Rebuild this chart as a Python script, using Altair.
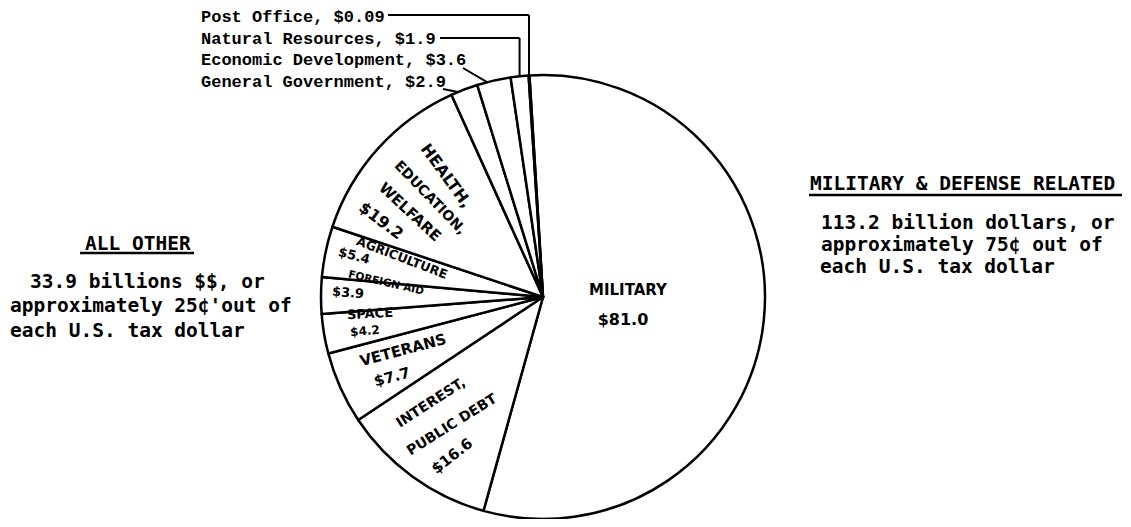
import math
import altair as alt
import pandas as pd

# ---------------- data ----------------
categories = ["Military", "Interest, Public Debt", "Veterans", "Space", "Foreign Aid",
              "Agriculture", "Health, Education, Welfare", "General Government",
              "Economic Development", "Natural Resources", "Post Office"]
values = [81.0, 16.6, 7.7, 4.2, 3.9, 5.4, 19.2, 2.9, 3.6, 1.9, 0.09]

top_labels = ["Post Office, $0.09", "Natural Resources, $1.9",
              "Economic Development, $3.6", "General Government, $2.9"]
top_label_cats = ["Post Office", "Natural Resources", "Economic Development", "General Government"]

left_lines = ["ALL OTHER", "33.9 billions $$, or", "approximately 25\u00a2'out of", "each U.S. tax dollar"]
right_lines = ["MILITARY & DEFENSE RELATED", "113.2 billion dollars, or",
               "approximately 75\u00a2 out of", "each U.S. tax dollar"]

slice_texts = ["HEALTH,", "EDUCATION,", "WELFARE", "$19.2",
               "AGRICULTURE", "$5.4", "FOREIGN AID", "$3.9",
               "SPACE", "$4.2", "VETERANS", "$7.7",
               "INTEREST,", "PUBLIC DEBT", "$16.6", "MILITARY", "$81.0"]

# ---------------- layout ----------------
OFF = 8
W, H = 1115, 511
CX, CY, R = 543 - OFF, 297 - OFF, 222
START_DEG = -3.5

total = sum(values)
a0 = math.radians(360 + START_DEG)

pie_df = pd.DataFrame({"category": categories, "value": values, "order": list(range(len(values)))})

pie = alt.Chart(pie_df).mark_arc(fill="white", stroke="black", strokeWidth=2.5,
                                 radius=R, strokeJoin="round").encode(
    theta=alt.Theta("value:Q", stack=True, scale=alt.Scale(range=[a0, a0 + 2 * math.pi])),
    order=alt.Order("order:Q"),
    x=alt.value(CX), y=alt.value(CY),
)

# slice angle helper (degrees, clockwise from 12 o'clock)
starts = []
acc = 0.0
for v in values:
    starts.append(START_DEG + 360 * acc / total)
    acc += v
ends = [s + 360 * v / total for s, v in zip(starts, values)]


def circ_pt(cat, frac):
    i = categories.index(cat)
    ang = math.radians(starts[i] + frac * (ends[i] - starts[i]))
    return CX + R * math.sin(ang), CY - R * math.cos(ang)


# leader lines (label anchor in page coords)
leader_style = {
    "Post Office": ("h", 388, 15, 0.5),
    "Natural Resources": ("h", 440, 38, 0.5),
    "Economic Development": ("d", 463, 68, 0.3),
    "General Government": ("d", 443, 89, 0.25),
}
segs = []
for cat in top_label_cats:
    kind, lx, ly, frac = leader_style[cat]
    px, py = circ_pt(cat, frac)
    lx, ly = lx - OFF, ly - OFF
    if kind == "h":
        segs.append({"x": lx, "y": ly, "x2": px, "y2": ly})
        segs.append({"x": px, "y": ly, "x2": px, "y2": py})
    else:
        segs.append({"x": lx, "y": ly, "x2": px, "y2": py})
seg_df = pd.DataFrame(segs)

leaders = alt.Chart(seg_df).mark_rule(stroke="black", strokeWidth=2).encode(
    x=alt.X("x:Q", scale=None), y=alt.Y("y:Q", scale=None),
    x2="x2:Q", y2="y2:Q",
)

# top labels
top_df = pd.DataFrame({
    "text": top_labels,
    "x": [201 - OFF] * 4,
    "y": [22 - OFF, 44 - OFF, 65 - OFF, 87 - OFF],
})
top_text = alt.Chart(top_df).mark_text(
    font="Liberation Mono", fontWeight="bold", fontSize=17, align="left",
    baseline="alphabetic", color="black"
).encode(x=alt.X("x:Q", scale=None), y=alt.Y("y:Q", scale=None), text="text:N")

# side blocks
side_df = pd.DataFrame({
    "text": left_lines + right_lines,
    "x": [85, 30, 10, 10, 810, 821, 821, 820],
    "y": [250, 288, 312, 337, 190, 229, 251, 273],
})
side_df["x"] -= OFF
side_df["y"] -= OFF
side_text = alt.Chart(side_df).mark_text(
    font="DejaVu Sans Mono", fontWeight="bold", fontSize=19.5, align="left",
    baseline="alphabetic", color="black"
).encode(x=alt.X("x:Q", scale=None), y=alt.Y("y:Q", scale=None), text="text:N")

under_df = pd.DataFrame({"x": [80 - OFF, 809 - OFF], "x2": [194 - OFF, 1122 - OFF],
                         "y": [253 - OFF, 195 - OFF]})
underlines = alt.Chart(under_df).mark_rule(stroke="black", strokeWidth=2.5).encode(
    x=alt.X("x:Q", scale=None), x2="x2:Q", y=alt.Y("y:Q", scale=None)
)

# hand-lettered slice labels: centre position (page coords), rotation, size
slice_pos = [
    (446, 176, 54, 16), (430, 198, 46, 14), (410, 212, 43, 15), (381, 221, 37, 16),
    (402, 258, 21, 12.5), (354, 256, 15, 13), (386, 283, 13, 10.5), (348, 293, 5, 13),
    (370, 314, 357, 13), (365, 331, 355, 12), (403, 350, 345, 15), (392, 377, 345, 15),
    (431, 403, 327, 14), (452, 425, 328, 14), (452, 456, 322, 15), (628, 290, 0, 15),
    (623, 320, 0, 16),
]
sl_df = pd.DataFrame({
    "text": slice_texts,
    "x": [p[0] - OFF for p in slice_pos],
    "y": [p[1] - OFF for p in slice_pos],
    "angle": [p[2] for p in slice_pos],
    "size": [p[3] for p in slice_pos],
})
slice_text = alt.Chart(sl_df).mark_text(
    font="DejaVu Sans", fontWeight="bold", align="center", baseline="middle", color="black"
).encode(
    x=alt.X("x:Q", scale=None), y=alt.Y("y:Q", scale=None), text="text:N",
    angle=alt.Angle("angle:Q", scale=None), size=alt.Size("size:Q", scale=None),
)

chart = alt.layer(pie, leaders, top_text, side_text, underlines, slice_text).properties(
    width=W, height=H, padding=0, autosize=alt.AutoSizeParams(type="none"),
    background="white",
).configure_view(stroke=None)

chart.save("out.html", embed_options={"renderer": "svg", "actions": False})
